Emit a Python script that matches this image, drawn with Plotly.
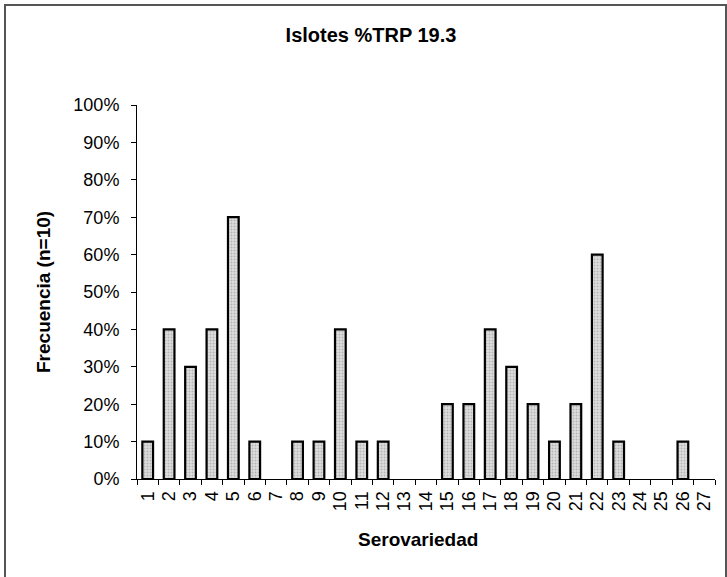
import plotly.graph_objects as go

categories = [str(i) for i in range(1, 28)]
values = [10, 40, 30, 40, 70, 10, 0, 10, 10, 40, 10, 10, 0, 0, 20, 20, 40, 30, 20, 10, 20, 60, 10, 0, 0, 10, 0]
y_ticks = list(range(0, 101, 10))
y_tick_labels = [f"{v}%" for v in y_ticks]

W, H = 727, 577
L, R, T, B = 137, 12, 105, 98
pw, ph = W - L - R, H - T - B

def px(x):
    return (x - L) / pw

def py(y):
    return (H - B - y) / ph

font_main = "Arial, Liberation Sans, sans-serif"

fig = go.Figure(go.Bar(
    x=categories,
    y=[v if v > 0 else None for v in values],
    width=0.5,
    marker=dict(
        color="#d4d4d4",
        line=dict(color="black", width=2.2),
        pattern=dict(shape=".", fgcolor="#8a8a8a", bgcolor="#dedede", size=3, solidity=0.35),
    ),
))

fig.update_layout(
    width=W, height=H,
    margin=dict(l=L, r=R, t=T, b=B),
    paper_bgcolor="white", plot_bgcolor="white",
    showlegend=False,
    font=dict(family=font_main, color="black", size=18),
    title=dict(text="<b>Islotes %TRP 19.3</b>", x=371 / W, xanchor="center",
               y=1 - 35 / H, yanchor="middle", yref="container",
               font=dict(size=20, family=font_main)),
    xaxis=dict(
        type="category", showgrid=False, showline=True, linecolor="black", linewidth=1,
        ticks="outside", ticklen=5, tickcolor="black", tickson="boundaries",
        tickmode="array", tickvals=categories, ticktext=categories,
        tickangle=-90, tickfont=dict(size=18, family=font_main),
        ticklabelstandoff=4,
        range=[-0.5, 26.5],
    ),
    yaxis=dict(
        range=[0, 100], tickvals=y_ticks, ticktext=y_tick_labels, showgrid=False,
        showline=True, linecolor="black", linewidth=1, ticks="outside", ticklen=5,
        tickcolor="black", tickfont=dict(size=18, family=font_main),
        ticklabelstandoff=8,
        zeroline=False,
    ),
    annotations=[
        dict(text="<b>Frecuencia (n=10)</b>", xref="paper", yref="paper",
             x=px(43), y=py(292), xanchor="center", yanchor="middle",
             textangle=-90, showarrow=False, font=dict(size=19, family=font_main)),
        dict(text="<b>Serovariedad</b>", xref="paper", yref="paper",
             x=px(418), y=py(539), xanchor="center", yanchor="middle",
             showarrow=False, font=dict(size=19, family=font_main)),
    ],
    shapes=[dict(type="rect", xref="paper", yref="paper",
                 x0=px(5), x1=px(726), y0=py(5), y1=py(590),
                 line=dict(color="#555555", width=2), fillcolor="rgba(0,0,0,0)", layer="below")],
)

fig.write_html("out.html")
